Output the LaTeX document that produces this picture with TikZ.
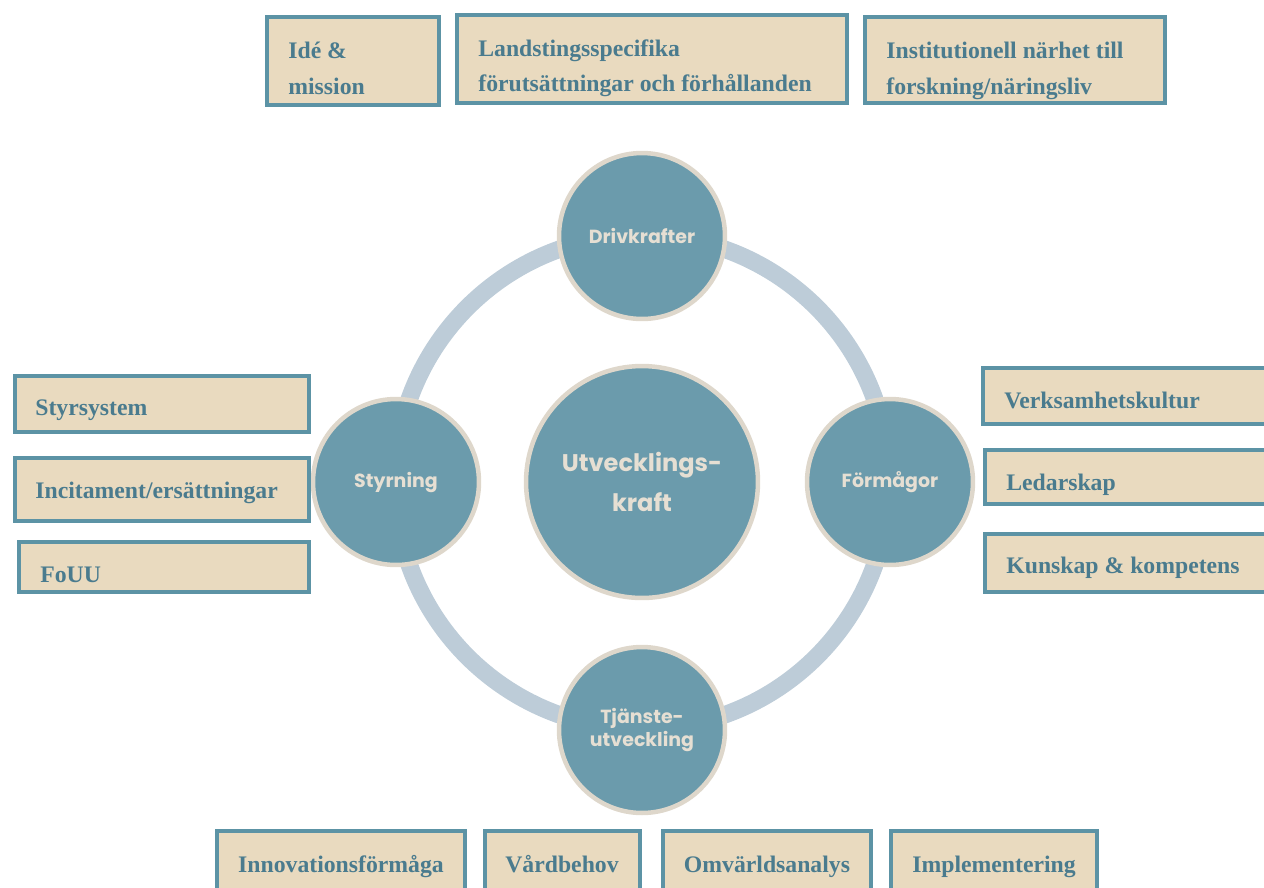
\documentclass[tikz,border=0pt]{standalone}
\usepackage{fontspec}
\setmainfont{Liberation Serif}
\newfontfamily\circfont{Poppins}
\usepackage{xcolor}
\usetikzlibrary{fit,positioning}
\definecolor{boxfill}{HTML}{E9DABF}
\definecolor{boxline}{HTML}{5C93A5}
\definecolor{boxtext}{HTML}{4A7B8E}
\definecolor{circfill}{HTML}{6B9BAC}
\definecolor{circline}{HTML}{DED7CB}
\definecolor{circtext}{HTML}{E6DFD3}
\definecolor{ringcol}{HTML}{BDCCD8}

\begin{document}
\begin{tikzpicture}[x=0.02cm,y=-0.02cm,
		box/.style={draw=boxline,fill=boxfill,line width=0.08cm,inner sep=0pt,rectangle},
		lbl/.style={text=boxtext,font=\fontsize{13.5}{16}\selectfont\bfseries,inner sep=0pt},
		bigcirc/.style={circle,fill=circfill,draw=circline,line width=0.09cm,inner sep=0pt,outer sep=0pt,text=circtext,align=center},
		sat/.style={bigcirc,minimum size=3.32cm,font=\circfont\fontsize{10.8}{14}\selectfont\bfseries},
		ring/.style={draw=ringcol,line width=0.35cm}]
		\useasboundingbox (0,0) rectangle (1264,887);
		% ring behind the circles
		\coordinate (mid) at (642,482);
		\draw[ring] (mid) circle (4.94cm);
		% circles
		\node[bigcirc,minimum size=4.64cm,font=\circfont\fontsize{13.7}{23}\selectfont\bfseries] (kraft) at (mid) {Utvecklings-\\kraft};
		\node[sat] (driv) at (642,236) {Drivkrafter};
		\node[sat] (styr) at (396,482) {Styrning};
		\node[sat] (form) at (890,482) {Förmågor};
		\node[sat,font=\circfont\fontsize{10.8}{13}\selectfont\bfseries] (tjan) at (642,730) {Tjänste-\\utveckling};
		% top boxes
		\node[box,fit={(267,17) (439,105)}] (ide) {};
		\node[box,fit={(457,15) (847,103)}] (lands) {};
		\node[box,fit={(865,17) (1165,103)}] (inst) {};
		\node[lbl,align=left,anchor=north west] (ideT) at (288,42) {Idé \&\\[4.3pt]mission};
		\node[lbl,align=left,anchor=north west] (landsT) at (478,39) {Landstingsspecifika\\[4.3pt]förutsättningar och förhållanden};
		\node[lbl,align=left,anchor=north west] (instT) at (886,42) {Institutionell närhet till\\[4.3pt]forskning/näringsliv};
		% left boxes
		\node[box,fit={(15,376) (309,432)}] (styrsys) {};
		\node[box,fit={(15,458) (309,521)}] (incit) {};
		\node[box,fit={(19,542) (309,592)}] (fouu) {};
		\node[lbl,anchor=base west] (styrsysT) at (35,415) {Styrsystem};
		\node[lbl,anchor=base west] (incitT) at (35,498) {Incitament/ersättningar};
		\node[lbl,anchor=base west] (fouuT) at (40,582) {FoUU};
		% right boxes
		\node[box,fit={(983,368) (1280,424)}] (verk) {};
		\node[box,fit={(985,450) (1280,504)}] (ledar) {};
		\node[box,fit={(985,534) (1280,592)}] (kunsk) {};
		\node[lbl,anchor=base west] (verkT) at (1004,408) {Verksamhetskultur};
		\node[lbl,anchor=base west] (ledarT) at (1006,490) {Ledarskap};
		\node[lbl,anchor=base west] (kunskT) at (1006,573) {Kunskap \& kompetens};
		% bottom boxes
		\node[box,fit={(217,831) (465,905)}] (innov) {};
		\node[box,fit={(485,831) (640,905)}] (vard) {};
		\node[box,fit={(663,831) (871,905)}] (omv) {};
		\node[box,fit={(891,831) (1097,905)}] (impl) {};
		\node[lbl,anchor=base] (innovT) at (341,872) {Innovationsförmåga};
		\node[lbl,anchor=base] (vardT) at (562,872) {Vårdbehov};
		\node[lbl,anchor=base] (omvT) at (767,872) {Omvärldsanalys};
		\node[lbl,anchor=base] (implT) at (994,872) {Implementering};
\end{tikzpicture}
\end{document}
